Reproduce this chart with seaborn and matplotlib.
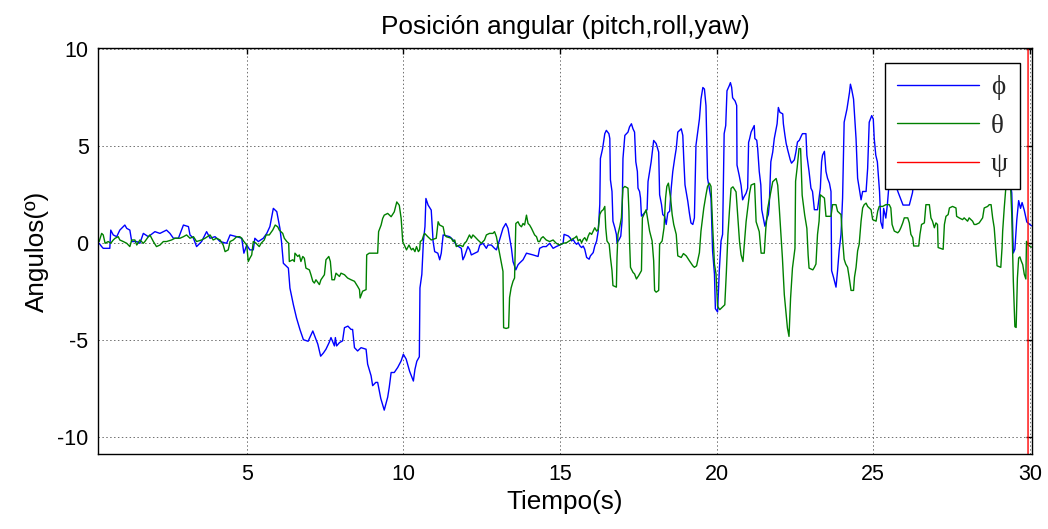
import numpy as np
import pandas as pd
import matplotlib
matplotlib.use("Agg")
import matplotlib.pyplot as plt
import seaborn as sns
from matplotlib.lines import Line2D

# ---------------- data ----------------
phi_t = [0.29, 0.37, 0.42, 0.63, 0.66, 0.74, 0.85, 0.95, 1.11, 1.17, 1.27, 1.33, 1.49, 1.59, 1.70, 1.86,
         2.07, 2.23, 2.44, 2.55, 2.66, 2.82, 2.98, 3.14, 3.19, 3.30, 3.40, 3.56, 3.72, 3.83, 3.99, 4.15,
         4.36, 4.47, 4.68, 4.84, 4.91, 5.00, 5.10, 5.21, 5.26, 5.37, 5.53, 5.64, 5.74, 5.85, 5.96, 6.06,
         6.11, 6.17, 6.33, 6.38, 6.49, 6.59, 6.70, 6.81, 6.96, 7.11, 7.21, 7.27, 7.36, 7.45, 7.53, 7.63,
         7.69, 7.80, 7.83, 7.87, 7.96, 8.06, 8.12, 8.23, 8.33, 8.38, 8.44, 8.54, 8.65, 8.81, 8.86, 8.97,
         9.02, 9.12, 9.18, 9.23, 9.28, 9.39, 9.50, 9.55, 9.61, 9.71, 9.82, 9.93, 10.00, 10.09, 10.20, 10.27,
         10.32, 10.37, 10.43, 10.51, 10.53, 10.59, 10.64, 10.69, 10.72, 10.79, 10.89, 10.95, 11.00, 11.10,
         11.16, 11.21, 11.27, 11.48, 11.59, 11.69, 11.85, 11.90, 11.95, 12.06, 12.12, 12.17, 12.28, 12.38,
         12.44, 12.54, 12.65, 12.70, 12.81, 12.91, 12.97, 13.07, 13.18, 13.27, 13.34, 13.45, 13.50, 13.59,
         13.66, 13.71, 13.82, 13.93, 14.14, 14.30, 14.35, 14.46, 14.56, 14.67, 14.78, 14.88, 14.99, 15.10,
         15.13, 15.26, 15.32, 15.37, 15.42, 15.48, 15.53, 15.58, 15.64, 15.69, 15.74, 15.79, 15.85, 15.93,
         15.97, 16.06, 16.11, 16.17, 16.22, 16.27, 16.29, 16.36, 16.43, 16.48, 16.56, 16.59, 16.61, 16.66,
         16.69, 16.75, 16.80, 16.82, 16.89, 16.94, 16.98, 17.01, 17.07, 17.17, 17.22, 17.28, 17.33, 17.38,
         17.42, 17.47, 17.49, 17.54, 17.57, 17.60, 17.65, 17.78, 17.81, 17.86, 17.91, 17.99, 18.07, 18.15,
         18.18, 18.24, 18.28, 18.34, 18.39, 18.44, 18.50, 18.55, 18.60, 18.66, 18.71, 18.76, 18.87, 18.92,
         18.95, 18.99, 19.08, 19.13, 19.18, 19.24, 19.29, 19.34, 19.45, 19.50, 19.56, 19.61, 19.66, 19.71,
         19.82, 19.87, 19.93, 19.96, 20.03, 20.085, 20.14, 20.19, 20.24, 20.29, 20.33, 20.40, 20.44, 20.48,
         20.51, 20.59, 20.64, 20.65, 20.72, 20.78, 20.83, 20.88, 20.94, 20.99, 21.02, 21.05, 21.10, 21.20,
         21.22, 21.28, 21.31, 21.36, 21.41, 21.44, 21.50, 21.54, 21.61, 21.65, 21.68, 21.73, 21.79, 21.84,
         21.89, 21.93, 21.97, 22.02, 22.11, 22.13, 22.18, 22.22, 22.27, 22.35, 22.39, 22.48, 22.53, 22.58,
         22.64, 22.71, 22.74, 22.85, 22.88, 22.95, 23.01, 23.06, 23.12, 23.22, 23.31, 23.35, 23.38, 23.44,
         23.49, 23.54, 23.60, 23.65, 23.67, 23.73, 23.81, 23.86, 23.91, 23.97, 24.02, 24.07, 24.16, 24.24,
         24.27, 24.31, 24.37, 24.41, 24.45, 24.50, 24.55, 24.61, 24.66, 24.77, 24.82, 24.87, 24.95, 25.00,
         25.03, 25.08, 25.13, 25.20, 25.24, 25.30, 25.33, 25.40, 25.45, 25.50, 25.60, 25.80, 25.95, 26.15,
         26.25, 26.40, 26.60, 26.80, 27.00, 27.20, 27.40, 27.60, 27.80, 28.00, 28.30, 28.50, 28.80, 29.00,
         29.20, 29.42, 29.47, 29.52, 29.58, 29.64, 29.70, 29.75, 29.82, 29.90, 30.05]
phi_v = [0.00, -0.17, -0.26, -0.26, 0.68, 0.43, 0.34, 0.68, 0.94, 0.77, 0.68, 0.09, 0.09, 0.00, 0.51, 0.34,
         0.60, 0.51, 0.68, 0.51, 0.26, 0.26, 0.94, 0.86, 0.43, 0.26, -0.17, 0.09, 0.60, 0.26, 0.34, 0.09,
         0.00, 0.43, 0.34, 0.26, -0.51, -0.09, -0.34, -0.34, 0.26, 0.09, 0.26, 0.51, 0.86, 1.80, 1.63, 0.77,
         0.09, -1.03, -1.28, -2.31, -3.17, -3.85, -4.45, -4.97, -5.05, -4.52, -4.95, -5.20, -5.82, -5.65, -5.46, -5.12,
         -4.86, -5.29, -4.86, -5.29, -5.12, -5.03, -4.35, -4.27, -4.44, -4.44, -5.38, -5.55, -5.38, -5.46, -6.23, -6.83,
         -7.34, -7.17, -7.17, -7.60, -8.00, -8.60, -7.93, -7.42, -6.66, -6.66, -6.40, -6.06, -5.72, -5.97, -6.60, -6.90,
         -7.10, -6.50, -6.08, -5.85, -2.30, -1.60, 0.10, 0.86, 2.31, 1.97, 1.71, 0.09, -0.43, -0.51,
         -0.85, -0.51, 0.43, 0.34, 0.17, -0.09, -0.26, -0.85, -0.68, -0.17, -0.34, -0.60, -0.51, -0.43,
         -0.09, 0.00, -0.26, -0.09, -0.09, -0.26, -0.34, 0.17, 0.77, 1.02, 0.77, -0.26, -0.94, -1.37,
         -1.11, -1.02, -0.85, -0.51, -0.60, -0.68, -0.26, -0.17, -0.17, 0.00, -0.26, -0.17, -0.09, 0.00,
         0.46, 0.38, 0.29, 0.12, 0.20, 0.03, -0.05, 0.03, -0.14, -0.22, -0.14, -0.31, -0.73, -0.82,
         -0.65, -0.48, -0.14, 0.12, 0.63, 2.00, 4.37, 4.88, 5.65, 5.82, 5.65, 5.40, 3.27, 2.67,
         1.14, 0.80, 0.46, 0.03, 0.20, 0.37, 1.14, 4.37, 5.56, 5.73, 6.00, 6.16, 5.90, 5.73,
         4.20, 3.70, 2.84, 2.67, 2.33, 1.40, 1.48, 1.73, 3.18, 3.70, 4.20, 5.30, 5.14, 4.70,
         2.50, 2.00, 1.48, 1.39, 0.97, 1.56, 1.65, 2.84, 3.70, 4.37, 4.88, 5.73, 5.90, 5.56,
         4.37, 3.01, 2.16, 1.56, 1.05, 0.97, 1.31, 5.05, 6.40, 7.43, 8.03, 7.95, 7.09, 3.35,
         2.33, -0.39, -1.58, -3.37, -3.54, -1.40, 0.12, 0.46, 5.65, 6.07, 7.86, 8.11, 8.28, 8.03,
         7.50, 7.33, 7.10, 4.03, 3.50, 2.99, 2.24, 2.41, 2.58, 2.84, 5.20, 5.37, 5.73, 6.07,
         5.40, 5.31, 4.88, 3.70, 3.01, 1.73, 1.22, 0.88, 1.31, 1.48, 2.00, 4.20, 4.70, 5.40,
         5.82, 6.16, 7.00, 6.75, 6.67, 6.16, 5.56, 5.14, 4.80, 4.30, 4.13, 4.30, 4.70, 5.22,
         5.31, 5.56, 5.65, 5.65, 4.54, 3.70, 2.84, 2.67, 1.73, 1.73, 2.84, 4.20, 4.54, 4.74,
         3.70, 3.35, 3.10, 2.67, -1.41, -1.75, -2.26, -1.41, -0.39, 0.46, 2.33, 6.24, 6.92, 7.77,
         8.20, 7.94, 7.43, 6.41, 5.39, 3.35, 2.84, 2.24, 2.67, 2.67, 3.86, 6.24, 6.58, 6.40,
         5.40, 4.54, 4.20, 2.65, 1.10, 0.77, 1.80, 1.30, 2.00, 3.00, 3.50, 2.60, 1.97, 1.97,
         2.60, 4.50, 5.50, 4.00, 3.00, 4.80, 5.60, 4.40, 3.20, 4.20, 5.50, 4.60, 3.50, 4.50,
         5.00, 2.60, -0.50, -0.30, 1.20, 2.20, 1.80, 2.10, 1.70, 1.10, 0.90]

theta_t = [0.29, 0.37, 0.42, 0.48, 0.58, 0.66, 0.74, 0.80, 0.90, 0.95, 1.06, 1.17, 1.27, 1.33, 1.43, 1.49,
           1.59, 1.70, 1.75, 1.86, 1.91, 2.02, 2.12, 2.23, 2.34, 2.44, 2.60, 2.71, 2.87, 2.98, 3.08, 3.19,
           3.30, 3.40, 3.56, 3.67, 3.83, 3.93, 4.04, 4.15, 4.25, 4.31, 4.41, 4.47, 4.57, 4.68, 4.78, 4.84,
           4.91, 5.00, 5.05, 5.10, 5.16, 5.21, 5.30, 5.40, 5.46, 5.56, 5.62, 5.72, 5.83, 5.91, 5.99, 6.04,
           6.15, 6.20, 6.28, 6.34, 6.36, 6.47, 6.52, 6.54, 6.63, 6.68, 6.73, 6.79, 6.84, 6.89, 7.00, 7.05,
           7.11, 7.16, 7.21, 7.32, 7.37, 7.48, 7.53, 7.62, 7.67, 7.72, 7.80, 7.85, 7.96, 8.01, 8.12, 8.22,
           8.33, 8.44, 8.54, 8.60, 8.62, 8.70, 8.81, 8.83, 8.91, 9.04, 9.13, 9.18, 9.21, 9.29, 9.34, 9.39,
           9.50, 9.61, 9.71, 9.79, 9.87, 9.93, 9.98, 10.10, 10.18, 10.23, 10.26, 10.31, 10.37, 10.42, 10.48,
           10.52, 10.54, 10.60, 10.65, 10.68, 10.78, 10.89, 11.05, 11.11, 11.16, 11.27, 11.32, 11.37, 11.53,
           11.59, 11.64, 11.69, 11.80, 11.90, 11.95, 12.01, 12.06, 12.11, 12.17, 12.22, 12.28, 12.38, 12.49,
           12.59, 12.65, 12.75, 12.86, 12.91, 12.97, 13.02, 13.07, 13.12, 13.18, 13.20, 13.28, 13.36, 13.39,
           13.44, 13.50, 13.55, 13.59, 13.66, 13.71, 13.77, 13.82, 13.87, 13.93, 13.98, 14.03, 14.09, 14.14,
           14.19, 14.25, 14.30, 14.35, 14.40, 14.46, 14.56, 14.67, 14.78, 14.88, 14.99, 15.10, 15.21, 15.37,
           15.48, 15.53, 15.58, 15.64, 15.69, 15.74, 15.79, 15.85, 15.90, 15.95, 16.01, 16.06, 16.11, 16.17,
           16.22, 16.27, 16.32, 16.38, 16.43, 16.46, 16.50, 16.57, 16.61, 16.66, 16.69, 16.80, 16.82, 16.85,
           16.91, 16.96, 17.01, 17.07, 17.17, 17.20, 17.22, 17.25, 17.33, 17.38, 17.44, 17.51, 17.60, 17.63,
           17.70, 17.75, 17.81, 17.86, 17.94, 17.99, 18.02, 18.07, 18.15, 18.18, 18.26, 18.32, 18.37, 18.41,
           18.46, 18.53, 18.58, 18.63, 18.71, 18.76, 18.87, 18.94, 19.03, 19.13, 19.24, 19.29, 19.36, 19.45,
           19.50, 19.59, 19.66, 19.71, 19.77, 19.82, 19.87, 19.93, 19.98, 20.03, 20.10, 20.26, 20.31, 20.36,
           20.41, 20.46, 20.52, 20.62, 20.67, 20.73, 20.78, 20.84, 20.89, 20.94, 21.05, 21.10, 21.21, 21.26,
           21.36, 21.42, 21.52, 21.57, 21.63, 21.74, 21.79, 21.90, 21.95, 22.00, 22.10, 22.16, 22.26, 22.31,
           22.36, 22.42, 22.50, 22.52, 22.57, 22.63, 22.68, 22.73, 22.81, 22.88, 22.92, 22.95, 23.07, 23.12,
           23.17, 23.22, 23.27, 23.31, 23.38, 23.44, 23.49, 23.65, 23.70, 23.81, 23.86, 23.97, 24.02, 24.07,
           24.12, 24.18, 24.23, 24.29, 24.37, 24.40, 24.45, 24.50, 24.55, 24.61, 24.66, 24.71, 24.77, 24.82,
           24.93, 24.98, 25.09, 25.14, 25.19, 25.30, 25.40, 25.51, 25.56, 25.60, 25.67, 25.78, 25.83, 25.88,
           25.94, 25.99, 26.10, 26.15, 26.20, 26.26, 26.29, 26.45, 26.49, 26.54, 26.63, 26.68, 26.79, 26.84,
           26.89, 26.95, 27.00, 27.05, 27.07, 27.23, 27.27, 27.32, 27.39, 27.43, 27.53, 27.64, 27.66, 27.74,
           27.85, 27.90, 27.96, 28.01, 28.06, 28.12, 28.17, 28.22, 28.28, 28.38, 28.49, 28.54, 28.65, 28.70,
           28.76, 28.81, 28.86, 28.89, 28.95, 29.07, 29.11, 29.13, 29.18, 29.23, 29.29, 29.36, 29.42, 29.47,
           29.52, 29.56, 29.60, 29.64, 29.68, 29.72, 29.77, 29.82, 29.87, 29.89, 29.95, 30.05]
theta_v = [0.09, 0.51, 0.43, 0.00, 0.09, 0.00, 0.17, 0.26, 0.34, 0.17, 0.09, 0.00, -0.17, 0.17, 0.17, -0.09,
           0.17, 0.00, 0.09, 0.34, 0.43, 0.09, -0.17, -0.09, 0.09, 0.09, 0.17, 0.26, 0.26, 0.34, 0.43, 0.26,
           0.34, 0.09, 0.17, 0.26, 0.43, 0.17, 0.26, 0.17, -0.09, -0.43, -0.34, 0.09, 0.17, 0.34, 0.34, 0.26,
           0.09, -0.09, -0.94, -0.77, -0.60, 0.09, 0.00, -0.17, 0.00, 0.17, 0.43, 0.43, 0.68, 0.94, 0.85, 0.68,
           0.51, 0.26, 0.09, 0.00, -0.94, -0.85, -0.94, -0.51, -0.68, -0.60, -0.94, -0.68, -0.77, -1.28, -1.37, -1.62,
           -1.96, -2.05, -1.88, -2.13, -1.88, -1.62, -0.85, -0.68, -0.94, -1.88, -1.88, -1.54, -1.71, -1.54, -1.62, -1.79,
           -1.88, -1.96, -2.22, -2.39, -2.82, -2.47, -2.39, -0.60, -0.51, -0.51, -0.51, -0.51, 0.60, 0.94, 1.28, 1.45,
           1.54, 1.37, 1.62, 2.13, 1.96, 1.28, 0.09, -0.34, -0.09, -0.26, -0.34, -0.26, -0.43, -0.17, -0.43,
           -0.34, 0.09, 0.17, 0.43, 0.51, 0.34, 0.17, 0.26, 1.11, 0.94, 0.85, 0.43, 0.34, 0.26,
           0.09, 0.17, -0.17, -0.09, -0.17, 0.00, 0.09, 0.26, 0.43, 0.26, 0.43, 0.34, 0.17, 0.00,
           0.17, 0.43, 0.51, 0.51, 0.60, 0.34, -0.09, -0.51, -0.94, -1.45, -4.35, -4.39, -4.35, -2.80,
           -2.30, -1.96, -1.79, 1.02, 1.11, 0.94, 0.85, 1.02, 0.94, 1.45, 1.02, 0.94, 0.77, 0.60,
           0.43, 0.34, 0.09, 0.09, 0.26, 0.34, 0.17, 0.09, 0.17, 0.00, -0.09, 0.00, 0.03, 0.20,
           0.29, 0.37, 0.12, 0.20, 0.03, 0.20, 0.29, 0.12, 0.37, 0.54, 0.46, 0.63, 0.80, 0.63,
           0.71, 1.48, 1.65, 1.73, 1.90, 0.80, 0.12, -0.05, -0.73, -1.41, -2.18, -2.26, -0.73, 0.46,
           0.88, 1.31, 2.84, 2.93, 2.84, 1.65, 0.12, -1.24, -1.50, -1.58, -1.84, -1.67, -1.41, 1.31,
           1.56, 1.73, 1.14, 0.63, 0.12, -0.90, -2.43, -2.52, -2.43, -0.05, 0.12, 0.80, 2.33, 2.93,
           3.10, 2.33, 1.48, 0.97, 0.46, -0.65, -0.73, -0.53, -0.65, -0.90, -1.16, -1.24, -1.16, -0.48,
           0.63, 1.82, 2.50, 2.93, 3.10, 2.93, 0.97, -1.07, -1.58, -3.25, -3.42, -3.17, -1.50, 0.43,
           1.71, 2.83, 2.91, 2.65, 1.46, 0.09, -0.60, -0.94, 0.09, 1.11, 2.57, 3.00, 3.08, 1.11,
           0.60, -0.51, -0.51, 0.77, 1.80, 2.74, 3.17, 3.34, 2.99, 1.80, -0.77, -2.65, -4.37, -4.80,
           -2.83, -1.28, -0.26, 3.20, 3.90, 4.88, 4.88, 2.48, 1.46, 0.77, -0.60, -1.28, -1.37, -1.24,
           -1.07, 0.46, 1.14, 2.50, 2.41, 2.33, 1.39, 1.39, 1.99, 1.99, 1.65, 1.48, 0.20, -0.82,
           -1.07, -1.24, -1.75, -2.43, -2.43, -1.75, -1.24, -0.39, -0.05, 1.14, 1.82, 1.99, 2.07, 1.90,
           1.73, 1.22, 1.14, 1.65, 1.90, 1.90, 1.99, 1.99, 1.82, 0.97, 0.63, 0.54, 0.63, 0.80,
           1.05, 1.31, 1.31, 1.05, 0.46, 0.29, -0.14, -0.14, 0.46, 0.97, 1.05, 1.99, 1.99, 1.31,
           1.14, 0.80, 1.05, 0.97, -0.22, -0.31, 0.97, 1.39, 1.48, 1.82, 1.90, 1.82, 1.39, 1.31,
           1.22, 1.31, 1.22, 1.14, 1.31, 1.22, 1.14, 0.97, 0.97, 1.05, 1.31, 1.82, 1.90, 1.99,
           1.99, 1.31, 0.80, 0.12, -1.16, -1.24, -0.22, 0.63, 1.82, 2.84, 3.50, 3.80, 1.50, -1.95,
           -4.30, -4.34, -1.80, -0.76, -0.70, -0.90, -1.10, -1.60, -1.84, 0.10, -0.10, -0.20]

psi_t = [0.29, 29.935, 29.945, 30.05]
psi_v = [-150.0, -150.0, 150.0, 150.0]

series_labels = ["\u03d5", "\u03b8", "\u03c8"]
series_colors = ["#0000ff", "#008000", "#ff0000"]
title_text = "Posici\u00f3n angular (pitch,roll,yaw)"
xlabel_text = "Tiempo(s)"
ylabel_text = "Angulos(\u00ba)"
xticks = [5, 10, 15, 20, 25, 30]
yticks = [-10, -5, 0, 5, 10]

# ---------------- build long-form table ----------------
frames = []
for name, t, v in zip(series_labels, [phi_t, theta_t, psi_t], [phi_v, theta_v, psi_v]):
    frames.append(pd.DataFrame({"t": t, "v": v, "serie": name, "order": np.arange(len(t))}))
df = pd.concat(frames, ignore_index=True)

sns.set_theme(style="white")
plt.rcParams["font.family"] = ["Liberation Sans", "DejaVu Sans"]
plt.rcParams["axes.unicode_minus"] = False

fig = plt.figure(figsize=(10.48, 5.29), dpi=100)
ax = fig.add_axes([0.0938, 0.1418, 0.8906, 0.7669])

sns.lineplot(data=df, x="t", y="v", hue="serie", hue_order=series_labels,
             palette=dict(zip(series_labels, series_colors)), sort=False, estimator=None,
             units="serie", linewidth=1.0, ax=ax, legend=False)

ax.set_xlim(0.263, 30.055)
ax.set_ylim(-10.86, 10.05)
ax.set_xticks(xticks)
ax.set_yticks(yticks)
ax.grid(True, linestyle=(0, (1.5, 2.5)), color="#6e6e6e", linewidth=0.7)
ax.set_axisbelow(True)
ax.tick_params(direction="in", length=4, width=1, top=True, right=True,
               labelsize=15.5, colors="black", pad=7)
for s in ax.spines.values():
    s.set_color("black")
    s.set_linewidth(1.0)

ax.set_title(title_text, fontsize=18.8, pad=10, color="black")
ax.set_xlabel(xlabel_text, fontsize=18.8, labelpad=4, color="black")
ax.set_ylabel(ylabel_text, fontsize=18.8, labelpad=6, color="black")

handles = [Line2D([0], [0], color=c, lw=1.0) for c in series_colors]
leg = ax.legend(handles, series_labels, loc="upper right", bbox_to_anchor=(0.9875, 0.9637),
                frameon=True, fancybox=False, framealpha=1.0, edgecolor="black",
                handlelength=3.0, handletextpad=0.45, labelspacing=0.5, borderpad=0.45,
                borderaxespad=0.0,
                prop={"family": ["Liberation Serif", "DejaVu Serif"], "size": 19.5})
leg.get_frame().set_linewidth(1.0)

fig.savefig("out.png", dpi=100)
